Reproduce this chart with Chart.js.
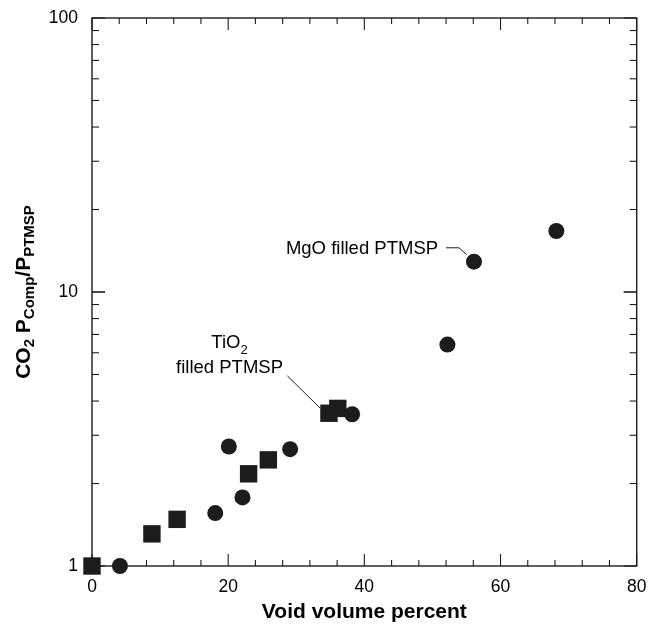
<!DOCTYPE html>
<html>
<head>
<meta charset="utf-8">
<script src="https://cdn.jsdelivr.net/npm/chart.js@4.4.1/dist/chart.umd.min.js"></script>
<style>
html, body { margin: 0; padding: 0; background: #fff; }
</style>
</head>
<body>
<canvas id="grafico" width="649" height="628"></canvas>
<script>
// TiO2 filled PTMSP (quadrados)
const tio2X = [0, 8.8, 12.5, 23.0, 25.9, 34.8, 36.1];
const tio2Y = [1, 1.31, 1.48, 2.17, 2.44, 3.61, 3.76];
// MgO filled PTMSP (circulos)
const mgoX = [4.1, 18.1, 20.1, 22.1, 29.1, 38.2, 52.2, 56.1, 68.2];
const mgoY = [1, 1.56, 2.73, 1.78, 2.67, 3.58, 6.43, 12.9, 16.7];

const xTicks = [0, 20, 40, 60, 80];
const yTicks = [1, 10, 100];

const preto = "#1c1c1c";
const fonte = "'Liberation Sans', Arial, sans-serif";

function pontos(xs, ys) {
    return xs.map((v, i) => ({ x: v, y: ys[i] }));
}

function linha(ctx, x1, y1, x2, y2) {
    ctx.beginPath();
    ctx.moveTo(x1, y1);
    ctx.lineTo(x2, y2);
    ctx.stroke();
}

// moldura + marcas internas nos quatro lados
const moldura = {
    id: "moldura",
    beforeDatasetsDraw(chart) {
        const { ctx, chartArea: a, scales: { x, y } } = chart;
        ctx.save();
        ctx.strokeStyle = preto;
        ctx.lineWidth = 1.4;
        ctx.strokeRect(a.left, a.top, a.right - a.left, a.bottom - a.top);
        ctx.lineWidth = 1.1;
        for (let v = 0; v <= 80; v += 4) {
            const px = x.getPixelForValue(v);
            const len = v % 20 === 0 ? 12 : 6;
            linha(ctx, px, a.bottom, px, a.bottom - len);
            linha(ctx, px, a.top, px, a.top + len);
        }
        for (let d = 1; d < 100; d *= 10) {
            for (let k = 1; k <= 10; k++) {
                const py = y.getPixelForValue(d * k);
                const len = (k === 1 || k === 10) ? 13 : 7;
                linha(ctx, a.left, py, a.left + len, py);
                linha(ctx, a.right, py, a.right - len, py);
            }
        }
        ctx.restore();
    },
    afterDatasetsDraw(chart) {
        const { ctx, chartArea: a, scales: { x, y } } = chart;
        ctx.save();
        ctx.fillStyle = "#000";
        ctx.strokeStyle = preto;

        // titulo do eixo y com subscritos
        const partes = [
            ["CO", 21, 0], ["2", 15, 6], [" P", 21, 0], ["Comp", 15, 6],
            ["/P", 21, 0], ["PTMSP", 15, 6]
        ];
        let total = 0;
        partes.forEach(p => {
            ctx.font = "bold " + p[1] + "px " + fonte;
            total += ctx.measureText(p[0]).width;
        });
        ctx.translate(24, (a.top + a.bottom) / 2);
        ctx.rotate(-Math.PI / 2);
        ctx.textBaseline = "middle";
        ctx.textAlign = "left";
        let cx = -total / 2;
        partes.forEach(p => {
            ctx.font = "bold " + p[1] + "px " + fonte;
            ctx.fillText(p[0], cx, p[2]);
            cx += ctx.measureText(p[0]).width;
        });
        ctx.setTransform(1, 0, 0, 1, 0, 0);

        // anotacao MgO
        ctx.font = "18.5px " + fonte;
        ctx.textAlign = "right";
        ctx.textBaseline = "middle";
        const mx = x.getPixelForValue(52.0);
        const my = y.getPixelForValue(14.5);
        ctx.fillText("MgO filled PTMSP", mx - 8, my + 1);
        ctx.lineWidth = 1;
        ctx.beginPath();
        ctx.moveTo(mx, my);
        ctx.lineTo(x.getPixelForValue(53.9), my);
        ctx.lineTo(x.getPixelForValue(55.0), y.getPixelForValue(13.7));
        ctx.stroke();

        // anotacao TiO2
        const tx = x.getPixelForValue(20.2);
        const ty = y.getPixelForValue(6.5);
        ctx.font = "18.5px " + fonte;
        const wTi = ctx.measureText("TiO").width;
        ctx.font = "13px " + fonte;
        const w2 = ctx.measureText("2").width;
        ctx.font = "18.5px " + fonte;
        ctx.textAlign = "left";
        ctx.fillText("TiO", tx - (wTi + w2) / 2, ty);
        ctx.font = "13px " + fonte;
        ctx.fillText("2", tx - (wTi + w2) / 2 + wTi, ty + 7);
        ctx.font = "18.5px " + fonte;
        ctx.textAlign = "center";
        ctx.fillText("filled PTMSP", tx, ty + 25);
        linha(ctx, x.getPixelForValue(28.7), y.getPixelForValue(4.94),
            x.getPixelForValue(33.5), y.getPixelForValue(3.77));
        ctx.restore();
    }
};

const grafico = new Chart(document.getElementById("grafico").getContext("2d"), {
    type: "scatter",
    data: {
        datasets: [
            {
                label: "MgO filled PTMSP",
                data: pontos(mgoX, mgoY),
                pointStyle: "circle",
                pointRadius: 8,
                pointHoverRadius: 8,
                backgroundColor: preto,
                borderColor: preto,
                borderWidth: 0,
                clip: false
            },
            {
                label: "TiO2 filled PTMSP",
                data: pontos(tio2X, tio2Y),
                pointStyle: "rect",
                pointRadius: 12.3,
                pointHoverRadius: 12.3,
                backgroundColor: preto,
                borderColor: preto,
                borderWidth: 0,
                clip: false
            }
        ]
    },
    options: {
        responsive: false,
        animation: false,
        devicePixelRatio: 1,
        layout: { padding: { top: 18, right: 12, left: 0, bottom: 0 } },
        plugins: {
            legend: { display: false },
            tooltip: { enabled: false }
        },
        scales: {
            x: {
                type: "linear",
                min: 0,
                max: 80,
                grid: { display: false, drawTicks: false },
                border: { display: false },
                afterBuildTicks: (s) => { s.ticks = xTicks.map(v => ({ value: v })); },
                afterFit: (s) => {
                    s.height = 62;
                    s.paddingLeft = 0;
                    s.paddingRight = 0;
                },
                ticks: {
                    padding: 11,
                    color: "#000",
                    font: { family: fonte, size: 17.5 },
                    maxRotation: 0
                },
                title: {
                    display: true,
                    text: "Void volume percent",
                    color: "#000",
                    font: { family: fonte, size: 21, weight: "bold" },
                    padding: { top: 0, bottom: 3 }
                }
            },
            y: {
                type: "logarithmic",
                min: 1,
                max: 100,
                grid: { display: false, drawTicks: false },
                border: { display: false },
                afterBuildTicks: (s) => { s.ticks = yTicks.map(v => ({ value: v })); },
                afterFit: (s) => {
                    s.width = 92;
                    s.paddingTop = 0;
                    s.paddingBottom = 0;
                },
                ticks: {
                    padding: 14,
                    color: "#000",
                    font: { family: fonte, size: 17.5 },
                    callback: (v) => String(v)
                }
            }
        }
    },
    plugins: [moldura]
});
</script>
</body>
</html>
